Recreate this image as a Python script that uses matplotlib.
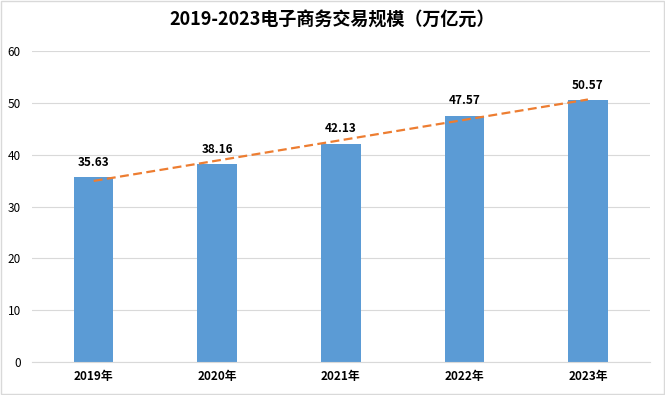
import numpy as np
import matplotlib.pyplot as plt

plt.rcParams['font.family'] = ['Noto Sans CJK SC', 'DejaVu Sans']

years = ['2019年', '2020年', '2021年', '2022年', '2023年']
values = [35.63, 38.16, 42.13, 47.57, 50.57]

fig = plt.figure(figsize=(6.65, 3.95), dpi=100)
ax = fig.add_axes([0.048, 0.0835, 0.929, 0.787])

x = np.arange(len(years))
ax.bar(x, values, width=0.32, color='#5B9BD5', zorder=2)

# linear trendline like Excel
k, b = np.polyfit(x, values, 1)
ax.plot([x[0], x[-1]], [k * x[0] + b, k * x[-1] + b], color='#ED7D31',
        linestyle=(0, (4, 2)), linewidth=1.6, zorder=3)

for xi, v in zip(x, values):
    ax.annotate(f'{v:.2f}', (xi, v), xytext=(0, 6), textcoords='offset points',
                ha='center', va='bottom', fontsize=8.5, fontweight='bold')

ax.set_xlim(-0.5, len(years) - 0.5)
ax.set_ylim(0, 60)
ax.set_yticks(range(0, 61, 10))
ax.set_xticks(x)
ax.set_xticklabels(years, fontsize=8.5, fontweight='bold')
ax.tick_params(axis='y', labelsize=8.5, length=0, pad=8)
ax.tick_params(axis='x', length=0, pad=6)
ax.yaxis.grid(True, color='#D9D9D9', linewidth=0.8, zorder=0)
ax.set_axisbelow(True)
for s in ['top', 'right', 'left']:
    ax.spines[s].set_visible(False)
ax.spines['bottom'].set_color('#D9D9D9')

fig.text(0.5, 0.948, '2019-2023电子商务交易规模（万亿元）', ha='center', va='center',
         fontsize=13, fontweight='bold')

fig.patches.append(plt.Rectangle((0.002, 0.003), 0.996, 0.994, transform=fig.transFigure,
                                 fill=False, edgecolor='#D9D9D9', linewidth=1))

fig.savefig('out.png', dpi=100)
